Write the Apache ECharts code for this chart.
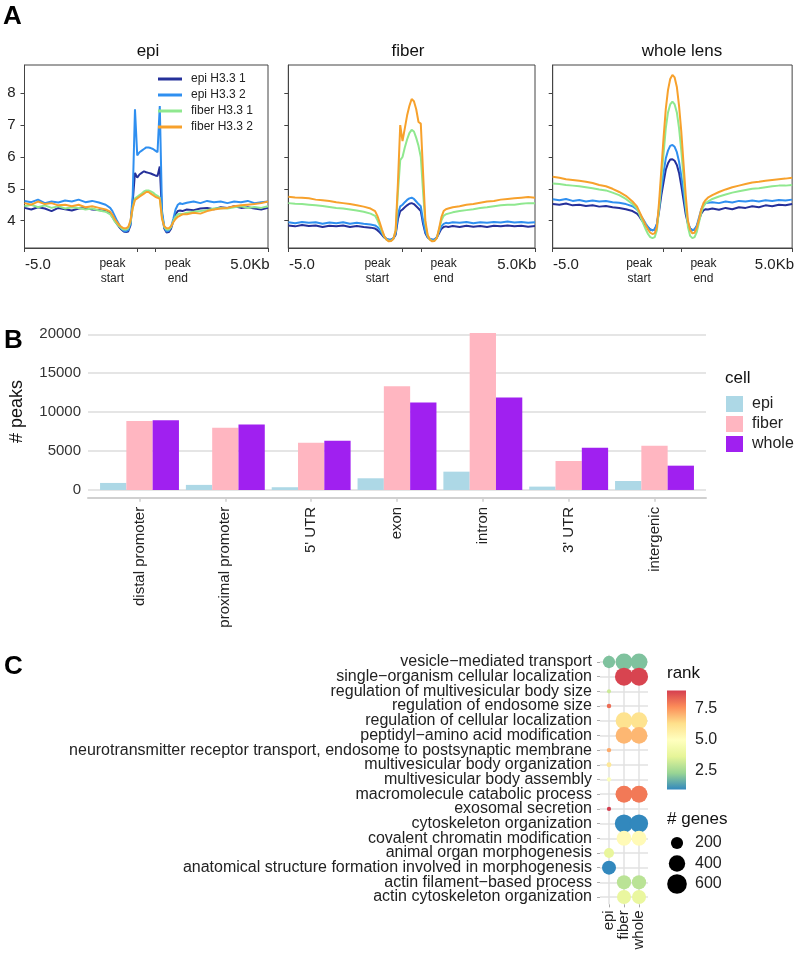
<!DOCTYPE html>
<html><head><meta charset="utf-8">
<script src="https://cdn.jsdelivr.net/npm/echarts@6/dist/echarts.min.js"></script>
<style>html,body{margin:0;padding:0;background:#fff}#c{width:797px;height:954px}</style>
</head><body><div id="c"></div>
<script>
// ---------- Panel A: profiles ----------
const profileBins = [0,3,6,9,12,15,18,21,24,27,30,33,36,38,39,40,41,42,43,44,45,46,47,48,49,50,51,52,53,54,55,56,57,58,59,60,61,62,63,64,65,66,67,68,69,70,72,75,78,81,84,87,90,93,96,99,102,105,108];
const profileTickBins = [0,50,58,108];
const profileLabelBins = [6,39,68,100];
const profileLabels = ['-5.0','peak\nstart','peak\nend','5.0Kb'];
const profileYTicks = [4,5,6,7,8];
const profileNames = ['epi H3.3 1','epi H3.3 2','fiber H3.3 1','fiber H3.3 2'];
const profileColors = ['#25309a','#2f8ff0','#8fe88f','#f7a12c'];
const panelTitles = ['epi','fiber','whole lens'];

const epiPanelEpi1 = [4.40,4.35,4.42,4.38,4.30,4.40,4.36,4.32,4.38,4.40,4.35,4.33,4.30,
 4.22,4.12,4.00,3.90,3.80,3.72,3.66,3.64,3.66,3.85,4.60,5.50,5.35,5.45,5.50,5.55,5.52,5.50,5.48,5.45,5.42,5.40,5.70,4.20,3.75,3.63,3.64,3.75,3.98,4.20,4.30,4.32,4.30,
 4.35,4.33,4.38,4.40,4.36,4.42,4.40,4.45,4.40,4.42,4.38,4.35,4.40];
const epiPanelEpi2 = [4.62,4.58,4.66,4.55,4.60,4.57,4.63,4.60,4.66,4.58,4.62,4.57,4.50,
 4.40,4.30,4.15,4.00,3.88,3.75,3.68,3.66,3.70,3.90,4.80,7.50,6.05,6.15,6.20,6.25,6.30,6.30,6.28,6.25,6.20,6.15,7.60,4.30,3.80,3.66,3.68,3.80,4.05,4.35,4.50,4.55,4.52,
 4.56,4.60,4.55,4.62,4.58,4.60,4.55,4.60,4.58,4.62,4.55,4.58,4.60];
const epiPanelFiber1 = [4.45,4.50,4.42,4.48,4.40,4.45,4.38,4.42,4.40,4.35,4.38,4.32,4.28,
 4.20,4.10,3.98,3.90,3.82,3.76,3.72,3.72,3.76,3.95,4.40,4.70,4.75,4.80,4.85,4.92,4.95,4.95,4.92,4.88,4.82,4.78,4.72,4.10,3.80,3.72,3.72,3.80,3.98,4.12,4.20,4.22,4.20,
 4.25,4.28,4.30,4.33,4.38,4.40,4.38,4.42,4.45,4.40,4.43,4.40,4.45];
const epiPanelFiber2 = [4.55,4.50,4.60,4.52,4.55,4.48,4.50,4.45,4.50,4.42,4.45,4.40,4.35,
 4.28,4.18,4.05,3.95,3.86,3.80,3.76,3.76,3.80,4.00,4.40,4.65,4.70,4.75,4.80,4.85,4.90,4.90,4.85,4.80,4.75,4.72,4.68,4.05,3.82,3.76,3.76,3.82,3.95,4.05,4.12,4.16,4.20,
 4.20,4.25,4.22,4.30,4.35,4.38,4.40,4.45,4.48,4.50,4.52,4.55,4.60];

const fiberPanelEpi1 = [3.85,3.82,3.86,3.83,3.85,3.80,3.84,3.82,3.85,3.80,3.83,3.80,3.78,
 3.75,3.70,3.63,3.55,3.47,3.42,3.40,3.40,3.44,3.56,4.05,4.30,4.35,4.42,4.48,4.53,4.55,4.52,4.45,4.38,4.30,3.90,3.60,3.47,3.42,3.40,3.41,3.46,3.60,3.74,3.80,3.82,3.80,
 3.83,3.80,3.84,3.81,3.83,3.80,3.84,3.82,3.85,3.82,3.84,3.81,3.83];
const fiberPanelEpi2 = [3.95,3.92,3.96,3.93,3.95,3.90,3.94,3.92,3.95,3.90,3.93,3.90,3.88,
 3.85,3.80,3.72,3.60,3.50,3.43,3.40,3.40,3.45,3.60,4.20,4.45,4.50,4.58,4.65,4.70,4.72,4.68,4.60,4.52,4.45,4.00,3.65,3.50,3.43,3.40,3.41,3.48,3.65,3.82,3.90,3.93,3.92,
 3.95,3.93,3.96,3.92,3.95,3.93,3.96,3.94,3.97,3.94,3.96,3.93,3.95];
const fiberPanelFiber1 = [4.55,4.53,4.52,4.50,4.48,4.46,4.43,4.40,4.38,4.35,4.32,4.28,4.22,
 4.15,4.02,3.85,3.66,3.50,3.40,3.36,3.37,3.43,3.68,4.90,5.90,6.00,6.30,6.55,6.75,6.85,6.80,6.60,6.35,6.00,4.90,3.90,3.52,3.40,3.36,3.37,3.45,3.72,4.00,4.15,4.20,4.22,
 4.26,4.30,4.33,4.36,4.40,4.42,4.45,4.48,4.50,4.50,4.53,4.55,4.55];
const fiberPanelFiber2 = [4.75,4.73,4.72,4.70,4.66,4.64,4.62,4.58,4.55,4.52,4.48,4.44,4.38,
 4.30,4.15,3.95,3.72,3.52,3.40,3.35,3.36,3.42,3.70,5.20,7.00,6.50,6.90,7.30,7.60,7.82,7.75,7.50,7.10,7.05,5.50,4.00,3.55,3.40,3.35,3.36,3.45,3.75,4.10,4.30,4.36,4.38,
 4.42,4.45,4.50,4.52,4.56,4.60,4.62,4.66,4.68,4.70,4.72,4.74,4.72];

const wholePanelEpi1 = [4.52,4.50,4.54,4.48,4.50,4.46,4.48,4.44,4.46,4.42,4.40,4.36,4.30,
 4.22,4.14,4.03,3.94,3.85,3.78,3.72,3.70,3.72,3.88,4.30,4.80,5.20,5.60,5.80,5.92,5.93,5.88,5.75,5.50,5.10,4.65,4.20,3.90,3.75,3.70,3.72,3.82,4.02,4.22,4.32,4.36,4.35,
 4.38,4.34,4.40,4.36,4.42,4.40,4.45,4.42,4.48,4.45,4.50,4.48,4.52];
const wholePanelEpi2 = [4.67,4.64,4.68,4.62,4.65,4.60,4.63,4.60,4.62,4.58,4.56,4.52,4.45,
 4.35,4.25,4.13,4.02,3.90,3.80,3.72,3.70,3.72,3.90,4.40,5.00,5.50,5.95,6.20,6.35,6.38,6.32,6.15,5.85,5.40,4.90,4.35,3.95,3.75,3.70,3.72,3.85,4.10,4.35,4.50,4.55,4.56,
 4.58,4.55,4.60,4.57,4.62,4.60,4.63,4.60,4.64,4.62,4.65,4.63,4.66];
const wholePanelFiber1 = [5.17,5.15,5.12,5.10,5.08,5.05,5.02,4.98,4.95,4.88,4.80,4.68,4.52,
 4.38,4.22,4.05,3.88,3.72,3.58,3.48,3.45,3.48,3.70,4.40,5.30,6.10,6.90,7.40,7.65,7.74,7.65,7.40,6.90,6.20,5.40,4.50,3.80,3.52,3.45,3.48,3.65,3.95,4.25,4.45,4.55,4.60,
 4.68,4.76,4.82,4.88,4.92,4.96,5.00,5.02,5.05,5.08,5.10,5.10,5.12];
const wholePanelFiber2 = [5.38,5.35,5.30,5.28,5.25,5.22,5.18,5.12,5.08,5.00,4.90,4.78,4.60,
 4.45,4.30,4.15,4.00,3.85,3.72,3.62,3.58,3.60,3.80,4.60,5.60,6.60,7.50,8.10,8.45,8.58,8.50,8.20,7.60,6.80,5.80,4.80,4.00,3.70,3.60,3.62,3.78,4.05,4.35,4.55,4.65,4.72,
 4.80,4.90,4.98,5.05,5.10,5.15,5.20,5.22,5.25,5.28,5.30,5.32,5.35];

// ---------- Panel B: peaks per region ----------
const regionCategories = ['distal promoter','proximal promoter',"5' UTR",'exon','intron',"3' UTR",'intergenic'];
const peaksEpi   = [900, 650, 350, 1500, 2350, 430, 1150];
const peaksFiber = [8850, 8000, 6070, 13330, 20170, 3720, 5680];
const peaksWhole = [8970, 8420, 6330, 11240, 11880, 5430, 3120];
const peaksYTicks = [0, 5000, 10000, 15000, 20000];
const cellNames = ['epi','fiber','whole'];
const cellColors = ['#add8e6','#ffb6c1','#a020f0'];

// ---------- Panel C: GO terms ----------
const goTerms = ['vesicle\u2212mediated transport','single\u2212organism cellular localization','regulation of multivesicular body size','regulation of endosome size','regulation of cellular localization','peptidyl\u2212amino acid modification','neurotransmitter receptor transport, endosome to postsynaptic membrane','multivesicular body organization','multivesicular body assembly','macromolecule catabolic process','exosomal secretion','cytoskeleton organization','covalent chromatin modification','animal organ morphogenesis','anatomical structure formation involved in morphogenesis','actin filament\u2212based process','actin cytoskeleton organization'];
const goColumns = ['epi','fiber','whole'];
const rankEpi   = [2.0, null, 3.2, 8.2, null, null, 7.2, 6.0, 4.8, null, 9.0, null, null, 3.8, 1.0, null, null];
const rankFiber = [2.0, 8.9, null, null, 6.2, 7.0, null, null, null, 8.0, null, 1.0, 5.2, null, null, 2.9, 3.9];
const rankWhole = [2.0, 8.9, null, null, 6.2, 7.0, null, null, null, 8.0, null, 1.0, 5.2, null, null, 2.9, 3.9];
const genesEpi   = [205, null, 8, 12, null, null, 12, 17, 10, null, 10, null, null, 124, 278, null, null];
const genesFiber = [430, 500, null, null, 420, 420, null, null, null, 430, null, 510, 320, null, null, 290, 280];
const genesWhole = [430, 500, null, null, 420, 420, null, null, null, 430, null, 510, 320, null, null, 290, 280];
const rankTicks = [2.5, 5.0, 7.5];
const rankRange = [1, 9];
const geneLegend = [200, 400, 600];
const spectral = ['#3288bd','#99d594','#e6f598','#ffffbf','#fee08b','#fc8d59','#d53e4f'];

// ---------- build ----------
const FONT = 'Liberation Sans';
const dotSize = g => 2 + 0.72 * Math.sqrt(g);
const profilePanels = [
  [epiPanelEpi1, epiPanelEpi2, epiPanelFiber1, epiPanelFiber2],
  [fiberPanelEpi1, fiberPanelEpi2, fiberPanelFiber1, fiberPanelFiber2],
  [wholePanelEpi1, wholePanelEpi2, wholePanelFiber1, wholePanelFiber2]
];
const aGrids = [
  {left:24.5, top:65, width:243.5, height:183},
  {left:288.3, top:65, width:246.7, height:183},
  {left:552.7, top:65, width:243.5, height:183}
];
const grids = aGrids.map(g => Object.assign({show:true, borderColor:'#444', borderWidth:1, backgroundColor:'transparent'}, g));
grids.push({left:74, top:325.1, width:632, height:172.7});      // B
grids.push({left:600, top:654.65, width:48, height:249.7});     // C
grids.push({left:667, top:690.4, width:19, height:99.2});       // colorbar
grids.push({left:667, top:832.75, width:20, height:61.5});      // size legend

const xAxes = [], yAxes = [], series = [];
for (let p = 0; p < 3; p++) {
  xAxes.push({type:'value', gridIndex:p, min:0, max:108,
    axisLine:{show:true, onZero:false, lineStyle:{color:'#444'}},
    axisTick:{show:true, customValues:profileTickBins, length:4, lineStyle:{color:'#444'}},
    axisLabel:{show:true, customValues:profileLabelBins, margin:8, color:'#222', showMinLabel:true, showMaxLabel:true,
      formatter:function(v){const i=profileLabelBins.indexOf(v); if(i<0) return ''; const t=profileLabels[i];
        return t.indexOf('\n')>=0 ? t.split('\n').map(s=>'{s|'+s+'}').join('\n') : '{b|'+t+'}';},
      rich:{s:{fontSize:12, lineHeight:15, color:'#222', fontFamily:FONT}, b:{fontSize:15, lineHeight:18, color:'#222', fontFamily:FONT}}},
    splitLine:{show:false}});
  yAxes.push({type:'value', gridIndex:p, min:3.14, max:8.89,
    axisLine:{show:true, onZero:false, lineStyle:{color:'#444'}},
    axisTick:{show:true, customValues:profileYTicks, length:4, lineStyle:{color:'#444'}},
    axisLabel:{show:p===0, customValues:profileYTicks, margin:9, fontSize:15, color:'#222', formatter:v=>String(v)},
    splitLine:{show:false}});
  for (let s = 0; s < 4; s++) {
    const arr = profilePanels[p][s];
    series.push({type:'line', name:profileNames[s], xAxisIndex:p, yAxisIndex:p,
      data:profileBins.map((x,i)=>[x, arr[i]]), showSymbol:false, symbol:'none',
      lineStyle:{width:2, color:profileColors[s]}, itemStyle:{color:profileColors[s]}, z:2+s});
  }
}
// B axes
xAxes.push({type:'value', gridIndex:3, min:0.4, max:7.6,
  axisLine:{show:true, onZero:false, lineStyle:{color:'#d0d0d0', width:2}},
  axisTick:{show:true, customValues:regionCategories.map((_,i)=>i+1), length:4, lineStyle:{color:'#d0d0d0', width:1.5}},
  axisLabel:{customValues:regionCategories.map((_,i)=>i+1), rotate:90, margin:9, fontSize:15, color:'#222',
    showMinLabel:true, showMaxLabel:true, hideOverlap:false,
    formatter:v=>regionCategories[Math.round(v)-1]},
  splitLine:{show:false}});
yAxes.push({type:'value', gridIndex:3, min:-1008, max:21178,
  axisLine:{show:false}, axisTick:{show:false, customValues:peaksYTicks},
  axisLabel:{customValues:peaksYTicks, margin:7, fontSize:15, color:'#333', formatter:v=>String(v)},
  splitLine:{show:true, lineStyle:{color:'#dcdcdc', width:1.5}},
  name:'# peaks', nameLocation:'middle', nameRotate:90, nameGap:62,
  nameTextStyle:{fontSize:18, color:'#111', fontFamily:FONT}});
const peakSets = [peaksEpi, peaksFiber, peaksWhole];
for (let k = 0; k < 3; k++) {
  series.push({type:'bar', name:cellNames[k], xAxisIndex:3, yAxisIndex:3,
    data:peakSets[k].map((v,i)=>[i+1, v]), barWidth:26.3, barGap:'0%',
    itemStyle:{color:cellColors[k]}});
}
// C axes
xAxes.push({type:'value', gridIndex:4, min:0.4, max:3.6,
  axisLine:{show:false}, axisTick:{show:true, customValues:[1,2,3], length:3, lineStyle:{color:'#aaa'}},
  axisLabel:{customValues:[1,2,3], rotate:90, margin:6, fontSize:15, lineHeight:13, color:'#222', showMinLabel:true, showMaxLabel:true, hideOverlap:false,
    formatter:v=>goColumns[Math.round(v)-1]},
  splitLine:{show:true, lineStyle:{color:'#e2e2e2', width:1.5}}});
yAxes.push({type:'value', gridIndex:4, min:0.5, max:17.5, inverse:true, position:'left',
  axisLine:{show:false}, axisTick:{show:true, customValues:goTerms.map((_,i)=>i+1), length:3, lineStyle:{color:'#aaa'}},
  axisLabel:{show:false},
  splitLine:{show:true, lineStyle:{color:'#e2e2e2', width:1.5}}});
const goData = [];
[[rankEpi,genesEpi],[rankFiber,genesFiber],[rankWhole,genesWhole]].forEach((pair,c)=>{
  pair[0].forEach((r,i)=>{ if (r !== null) goData.push([c+1, i+1, r, pair[1][i]]); });
});
series.push({type:'scatter', name:'GO', xAxisIndex:4, yAxisIndex:4, data:goData,
  symbolSize:v=>dotSize(v[3]), itemStyle:{opacity:1}, z:5});
const goSeriesIndex = series.length - 1;
// colorbar
xAxes.push({type:'value', gridIndex:5, min:0, max:1, show:false});
yAxes.push({type:'value', gridIndex:5, min:rankRange[0], max:rankRange[1], position:'right',
  axisLine:{show:false}, axisTick:{show:true, inside:true, customValues:rankTicks, length:4, lineStyle:{color:'#fff', width:1}},
  axisLabel:{customValues:rankTicks, margin:9, fontSize:16, color:'#222', formatter:v=>v.toFixed(1)},
  splitLine:{show:false}});
series.push({type:'custom', xAxisIndex:5, yAxisIndex:5, data:[[0, rankRange[0], rankRange[1]]], z:3,
  renderItem:function(params, api){
    const p0 = api.coord([0, api.value(2)]);
    const p1 = api.coord([1, api.value(1)]);
    const stops = spectral.slice().reverse().map((c,i,a)=>({offset:i/(a.length-1), color:c}));
    return {type:'rect', shape:{x:p0[0], y:p0[1], width:p1[0]-p0[0], height:p1[1]-p0[1]},
      style:{fill:new echarts.graphic.LinearGradient(0,0,0,1,stops)}};
  }});
// size legend
xAxes.push({type:'value', gridIndex:6, min:-1, max:1, show:false});
yAxes.push({type:'value', gridIndex:6, min:0.5, max:3.5, inverse:true, position:'right',
  axisLine:{show:false}, axisTick:{show:false},
  axisLabel:{customValues:[1,2,3], margin:8, fontSize:16, color:'#222', formatter:v=>String(geneLegend[Math.round(v)-1])},
  splitLine:{show:false}});
series.push({type:'scatter', xAxisIndex:6, yAxisIndex:6, data:geneLegend.map((g,i)=>[0, i+1, g]),
  symbolSize:v=>dotSize(v[2]), itemStyle:{color:'#000', opacity:1}});
// colorbar left white ticks
yAxes.push({type:'value', gridIndex:5, min:rankRange[0], max:rankRange[1], position:'left',
  axisLine:{show:false}, axisLabel:{show:false}, splitLine:{show:false},
  axisTick:{show:true, inside:true, customValues:rankTicks, length:4, lineStyle:{color:'#fff', width:1}}});
// GO term labels (category axis overlaying panel C)
yAxes.push({type:'category', gridIndex:4, data:goTerms, inverse:true, position:'left', offset:0,
  axisLine:{show:false}, axisTick:{show:false}, splitLine:{show:false},
  axisLabel:{interval:0, margin:8, fontSize:16, color:'#222', hideOverlap:false}});

function txt(x, y, text, size, opts) {
  return Object.assign({type:'text', x:x, y:y, z:100, style:Object.assign({text:text, fontSize:size, fontFamily:FONT,
    fill:'#111', align:'left', textAlign:'left', verticalAlign:'middle', textVerticalAlign:'middle'}, opts||{})});
}
const graphics = [
  txt(3, 17, 'A', 26, {fontWeight:'bold', fill:'#000'}),
  txt(4, 341, 'B', 26, {fontWeight:'bold', fill:'#000'}),
  txt(4, 667, 'C', 26, {fontWeight:'bold', fill:'#000'}),
  txt(667, 673, 'rank', 17),
  txt(667, 819, '# genes', 17),
  txt(725, 378, 'cell', 17)
];
const titleCenters = [148, 408, 682];
panelTitles.forEach((t,i)=>graphics.push(txt(titleCenters[i], 51, t, 17, {align:'center', textAlign:'center'})));

const option = {
  animation:false,
  textStyle:{fontFamily:FONT},
  grid:grids, xAxis:xAxes, yAxis:yAxes, series:series,
  legend:[
    {data:profileNames, left:158, top:73, orient:'vertical', icon:'rect', itemWidth:24, itemHeight:3, itemGap:4, padding:0,
      textStyle:{fontSize:12, lineHeight:12, color:'#222', padding:[0,0,0,4]}, selectedMode:false},
    {data:cellNames, left:726, top:396, orient:'vertical', icon:'rect', itemWidth:17, itemHeight:16, itemGap:4, padding:0,
      textStyle:{fontSize:16, color:'#222', padding:[0,0,0,4]}, selectedMode:false}
  ],
  visualMap:{type:'continuous', show:false, seriesIndex:goSeriesIndex, dimension:2, min:rankRange[0], max:rankRange[1],
    inRange:{color:spectral}},
  graphic:graphics
};
const chart = echarts.init(document.getElementById('c'), null, {renderer:'canvas'});
chart.setOption(option);
</script>
</body></html>
